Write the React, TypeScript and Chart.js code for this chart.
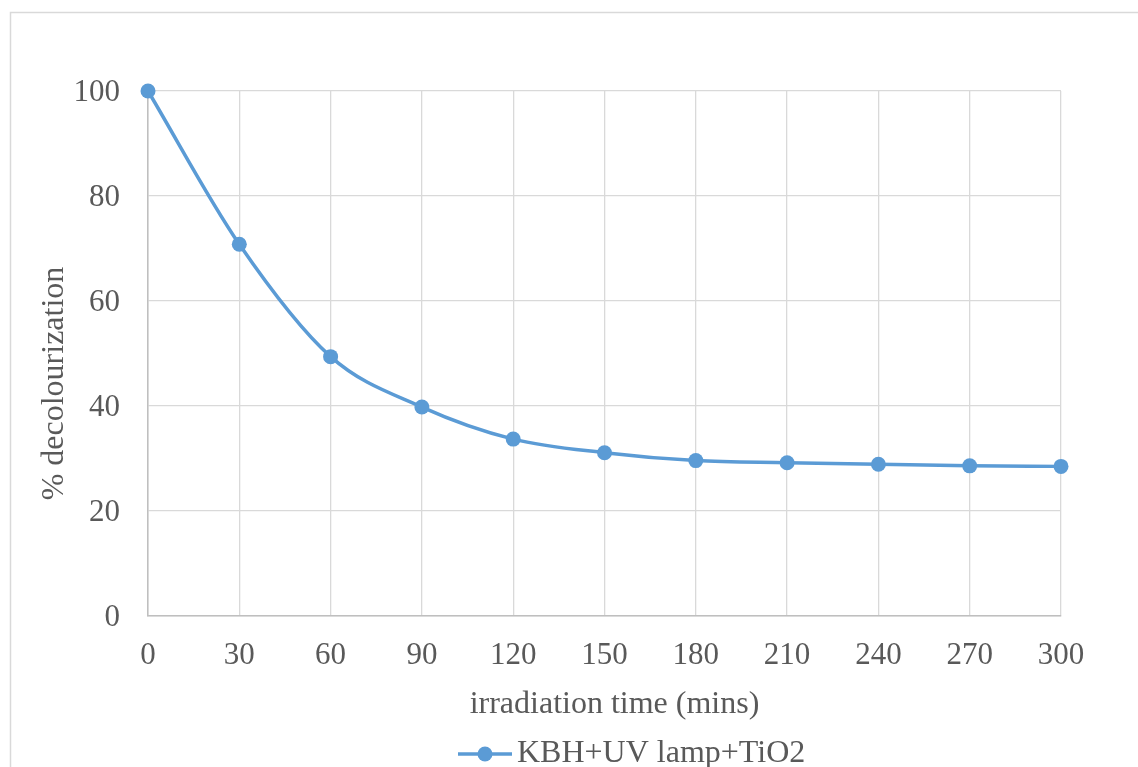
import React, { useEffect, useRef } from "react";
import { Chart, registerables } from "chart.js";

Chart.register(...registerables);

const times = [0, 30, 60, 90, 120, 150, 180, 210, 240, 270, 300];
const decolourization = [100, 70.8, 49.4, 39.8, 33.7, 31.1, 29.6, 29.2, 28.9, 28.6, 28.5];
const seriesLabel = "KBH+UV lamp+TiO2";
const xTitle = "irradiation time (mins)";
const yTitle = "% decolourization";

const FONT = "'Liberation Serif', 'Times New Roman', serif";
const TEXT = "#595959";
const BLUE = "#5B9BD5";

const decorPlugin = {
  id: "decor",
  beforeDraw(chart: any) {
    const ctx = chart.ctx;
    ctx.save();
    ctx.strokeStyle = "#d9d9d9";
    ctx.lineWidth = 1.5;
    ctx.strokeRect(10.5, 12.5, 1300, 1000);
    ctx.restore();
  },
  afterDraw(chart: any) {
    const ctx = chart.ctx;
    const a = chart.chartArea;
    ctx.save();
    ctx.fillStyle = TEXT;
    ctx.font = `32px ${FONT}`;
    ctx.textAlign = "center";
    ctx.textBaseline = "middle";
    ctx.fillText(xTitle, (a.left + a.right) / 2 + 10, a.bottom + 89);
    ctx.save();
    ctx.translate(55, (a.top + a.bottom) / 2 + 30);
    ctx.rotate(-Math.PI / 2);
    ctx.fillText(yTitle, 0, 0);
    ctx.restore();
    // legend
    const ly = a.bottom + 138;
    ctx.strokeStyle = BLUE;
    ctx.lineWidth = 3.5;
    ctx.beginPath();
    ctx.moveTo(458, ly);
    ctx.lineTo(512, ly);
    ctx.stroke();
    ctx.fillStyle = BLUE;
    ctx.beginPath();
    ctx.arc(485, ly, 7.5, 0, Math.PI * 2);
    ctx.fill();
    ctx.fillStyle = TEXT;
    ctx.textAlign = "left";
    ctx.fillText(seriesLabel, 517, ly);
    ctx.restore();
  },
};

export default function App() {
  const ref = useRef<HTMLCanvasElement>(null);
  useEffect(() => {
    if (!ref.current) return;
    const chart = new Chart(ref.current, {
      type: "line",
      data: {
        datasets: [
          {
            label: seriesLabel,
            data: times.map((t, i) => ({ x: t, y: decolourization[i] })),
            borderColor: BLUE,
            backgroundColor: BLUE,
            borderWidth: 3.5,
            pointRadius: 7.5,
            pointBackgroundColor: BLUE,
            pointBorderWidth: 0,
            cubicInterpolationMode: "monotone",
            fill: false,
            clip: false,
          },
        ],
      },
      options: {
        responsive: false,
        animation: false,
        layout: { padding: { left: 0, top: 91, right: 77, bottom: 0 } },
        plugins: { legend: { display: false }, tooltip: { enabled: false } },
        scales: {
          x: {
            type: "linear",
            min: 0,
            max: 300,
            afterFit: (s: any) => {
              s.height = 151;
            },
            ticks: { stepSize: 30, color: TEXT, font: { family: FONT, size: 31 }, padding: 21, maxRotation: 0 },
            grid: { color: "#d9d9d9", lineWidth: 1.3, drawTicks: false },
            border: { color: "#bfbfbf", width: 1.5 },
          },
          y: {
            type: "linear",
            min: 0,
            max: 100,
            afterFit: (s: any) => {
              s.width = 148;
            },
            ticks: { stepSize: 20, color: TEXT, font: { family: FONT, size: 31 }, padding: 28, labelOffset: 2 },
            grid: { color: "#d9d9d9", lineWidth: 1.3, drawTicks: false },
            border: { color: "#bfbfbf", width: 1.5 },
          },
        },
      },
      plugins: [decorPlugin],
    } as any);
    return () => chart.destroy();
  }, []);
  return (
    <div style={{ position: "fixed", left: 0, top: 0, width: 1138, height: 767, overflow: "hidden", background: "#fff" }}>
      <canvas ref={ref} width={1138} height={767} style={{ display: "block" }} />
    </div>
  );
}
